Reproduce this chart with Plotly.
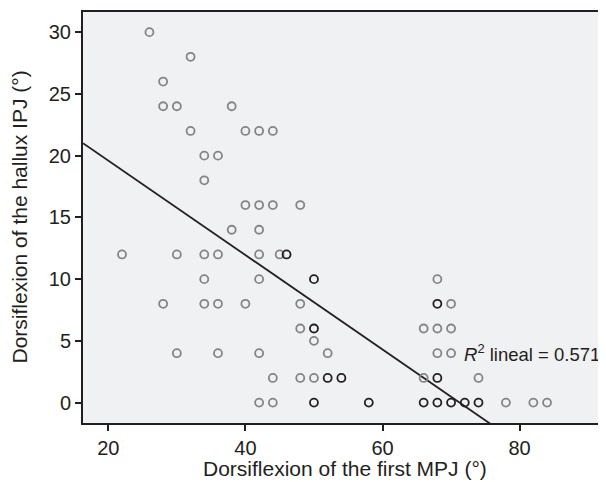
import numpy as np
import plotly.graph_objects as go

# Single observations (grey open circles)
grey_x = [26, 32, 28, 28, 30, 38, 32, 40, 42, 44, 34, 36, 34, 40, 42, 44, 48, 38, 42,
          22, 30, 34, 36, 42, 45, 34, 42, 68, 28, 34, 36, 40, 48, 70, 48, 66, 68, 70,
          50, 30, 36, 42, 52, 68, 70, 44, 48, 50, 66, 74, 42, 44, 78, 82, 84]
grey_y = [30, 28, 26, 24, 24, 24, 22, 22, 22, 22, 20, 20, 18, 16, 16, 16, 16, 14, 14,
          12, 12, 12, 12, 12, 12, 10, 10, 10, 8, 8, 8, 8, 8, 8, 6, 6, 6, 6,
          5, 4, 4, 4, 4, 4, 4, 2, 2, 2, 2, 2, 0, 0, 0, 0, 0]

# Overlapping observations (dark open circles)
dark_x = [46, 50, 68, 50, 52, 54, 68, 50, 58, 66, 68, 70, 72, 74]
dark_y = [12, 10, 8, 6, 2, 2, 2, 0, 0, 0, 0, 0, 0, 0]

# Linear fit
fit_intercept = 27.25
fit_slope = -0.3825
fit_r2 = 0.571

x_ticks = [20, 40, 60, 80]
y_ticks = [0, 5, 10, 15, 20, 25, 30]

x_range = [16.31, 92.6]
y_range = [-1.65, 31.63]

line_x = np.array([x_range[0], 100.0])
line_y = fit_intercept + fit_slope * line_x

FONT = "Liberation Sans, Arial, sans-serif"
DARK = "#231f20"

fig = go.Figure()
fig.add_trace(go.Scatter(x=line_x, y=line_y, mode="lines",
                         line=dict(color=DARK, width=1.8), hoverinfo="skip",
                         showlegend=False))
fig.add_trace(go.Scatter(x=grey_x, y=grey_y, mode="markers",
                         marker=dict(symbol="circle-open", size=8,
                                     color="#858585", line=dict(width=1.8, color="#858585")),
                         showlegend=False))
fig.add_trace(go.Scatter(x=dark_x, y=dark_y, mode="markers",
                         marker=dict(symbol="circle-open", size=8,
                                     color=DARK, line=dict(width=1.8, color=DARK)),
                         showlegend=False))

fig.add_annotation(x=71.7, y=4, xref="x", yref="y",
                   text="<i>R</i><sup>2</sup> lineal = " + f"{fit_r2:.3f}",
                   showarrow=False, xanchor="left", yanchor="middle", borderpad=0,
                   font=dict(family=FONT, size=18.5, color=DARK))

# Axis titles as annotations for exact placement
fig.add_annotation(x=0.5, y=0, xref="paper", yref="paper",
                   text="Dorsiflexion of the first MPJ (°)",
                   showarrow=False, xanchor="center", yanchor="middle", yshift=-45,
                   font=dict(family=FONT, size=21, color=DARK))
fig.add_annotation(x=0, y=0.5, xref="paper", yref="paper",
                   text="Dorsiflexion of the hallux IPJ (°)", textangle=-90,
                   showarrow=False, xanchor="center", yanchor="middle", xshift=-64,
                   font=dict(family=FONT, size=21, color=DARK))

# The page body adds an 8px margin; the figure is sized to fit inside it.
fig.update_layout(
    width=598, height=474,
    margin=dict(l=75, r=0, t=4, b=59),
    paper_bgcolor="white",
    plot_bgcolor="#f0f1f3",
    font=dict(family=FONT, size=17, color=DARK),
    xaxis=dict(range=x_range, tickvals=x_ticks, ticks="outside", ticklen=6,
               tickwidth=1.5, tickcolor=DARK, showgrid=False, zeroline=False,
               showline=True, linecolor=DARK, linewidth=2, mirror=True,
               automargin=False, tickfont=dict(size=20)),
    yaxis=dict(range=y_range, tickvals=y_ticks, ticks="outside", ticklen=6,
               tickwidth=1.5, tickcolor=DARK, showgrid=False, zeroline=False,
               showline=True, linecolor=DARK, linewidth=2, mirror=False,
               automargin=False, tickfont=dict(size=20)),
)

fig.write_html("out.html")
